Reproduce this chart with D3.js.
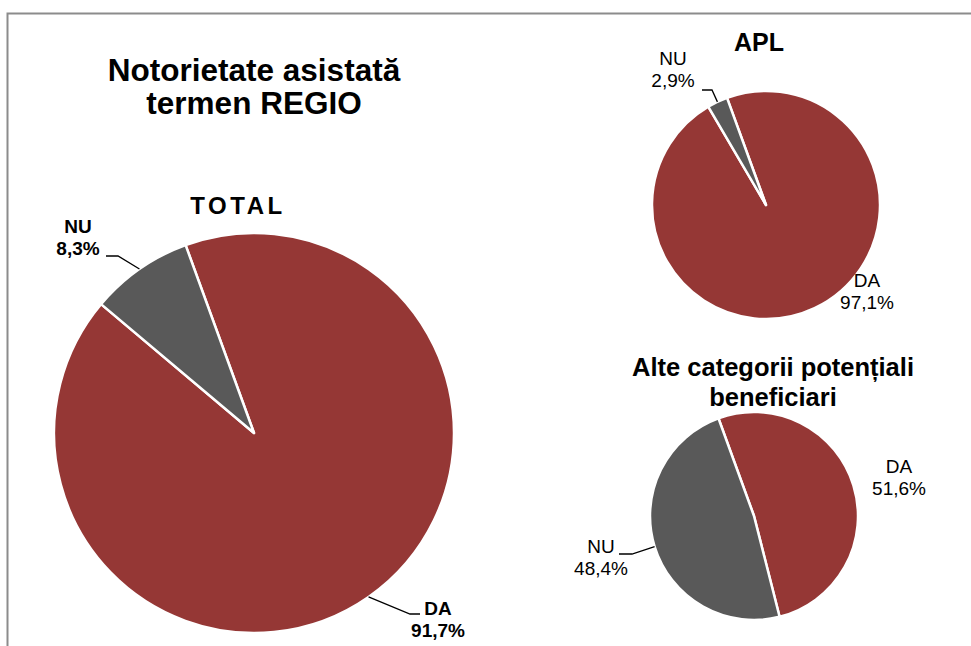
<!DOCTYPE html>
<html>
<head>
<meta charset="utf-8">
<script src="https://cdn.jsdelivr.net/npm/d3@7"></script>
<style>
  body { margin: 0; background: #fff; }
  svg { display: block; font-family: "Liberation Sans", Arial, sans-serif; }
</style>
</head>
<body>
<div id="chart"></div>
<script>
// data
var categories = ['DA', 'NU'];
var totalValues = [91.7, 8.3];
var aplValues = [97.1, 2.9];
var alteValues = [51.6, 48.4];
var colors = ['#953735', '#595959'];

var width = 971, height = 646;

var svg = d3.select('#chart').append('svg')
    .attr('width', width)
    .attr('height', height);

// chart frame (clipped on right and bottom)
svg.append('path')
    .attr('d', 'M7.5,' + height + 'V13.5H' + width)
    .style('fill', 'none')
    .style('stroke', '#8c8c8c')
    .style('stroke-width', 2);

svg.append('text')
    .attr('x', 254).attr('y', 81)
    .attr('text-anchor', 'middle')
    .style('font-weight', 'bold').style('font-size', '31.5px')
    .text('Notorietate asistată');
svg.append('text')
    .attr('x', 254).attr('y', 114)
    .attr('text-anchor', 'middle')
    .style('font-weight', 'bold').style('font-size', '31.5px')
    .text('termen REGIO');

var fmt = function(v) { return d3.format('.1f')(v).replace('.', ',') + '%'; };

var pie = d3.pie().sort(null)
    .startAngle(-20 * Math.PI / 180)
    .endAngle(340 * Math.PI / 180);

// draw one pie; labels = per slice {dx, dy, leader}
function drawPie(values, cx, cy, r, bold, labels) {
    var g = svg.append('g').attr('transform', 'translate(' + cx + ',' + cy + ')');
    var arcs = pie(values);
    var arc = d3.arc().innerRadius(0).outerRadius(r);

    g.selectAll('path.slice')
        .data(arcs).enter()
        .append('path')
        .attr('class', 'slice')
        .attr('d', arc)
        .style('fill', function(d, i) { return colors[i]; })
        .style('stroke', '#fff')
        .style('stroke-width', 2.5)
        .style('stroke-linejoin', 'round');

    arcs.forEach(function(d, i) {
        var lab = labels[i];
        var t = g.append('text')
            .attr('text-anchor', 'middle')
            .style('font-size', '19px')
            .style('font-weight', bold ? 'bold' : 'normal');
        t.append('tspan').attr('x', lab.dx).attr('y', lab.dy).text(categories[i]);
        t.append('tspan').attr('x', lab.dx).attr('y', lab.dy + 22).text(fmt(d.data));

        if (lab.leader) {
            var mid = (d.startAngle + d.endAngle) / 2;
            var p0 = [r * Math.sin(mid), -r * Math.cos(mid)];
            g.append('path')
                .attr('d', d3.line()([p0, lab.leader[0], lab.leader[1]]))
                .style('fill', 'none')
                .style('stroke', '#000')
                .style('stroke-width', 1.3);
        }
    });
    return g;
}

// TOTAL
drawPie(totalValues, 254, 433, 200, true, [
    {dx: 184, dy: 182, leader: [[156, 181], [166, 181]]},
    {dx: -176, dy: -200, leader: [[-136, -177], [-148, -177]]}
]);
svg.append('text')
    .attr('x', 238).attr('y', 214)
    .attr('text-anchor', 'middle')
    .style('font-weight', 'bold').style('font-size', '24px')
    .style('letter-spacing', '3.5px')
    .text('TOTAL');

// APL
drawPie(aplValues, 766, 205, 114, false, [
    {dx: 101, dy: 82},
    {dx: -93, dy: -140, leader: [[-54, -115], [-64, -115]]}
]);
svg.append('text')
    .attr('x', 759).attr('y', 51)
    .attr('text-anchor', 'middle')
    .style('font-weight', 'bold').style('font-size', '25px')
    .text('APL');

// Alte categorii
drawPie(alteValues, 754, 516, 104, false, [
    {dx: 145, dy: -43},
    {dx: -153, dy: 37, leader: [[-122, 38], [-135, 38]]}
]);
svg.append('text')
    .attr('x', 773).attr('y', 376)
    .attr('text-anchor', 'middle')
    .style('font-weight', 'bold').style('font-size', '25.5px')
    .text('Alte categorii potențiali');
svg.append('text')
    .attr('x', 773).attr('y', 406)
    .attr('text-anchor', 'middle')
    .style('font-weight', 'bold').style('font-size', '25.5px')
    .text('beneficiari');
</script>
</body>
</html>
